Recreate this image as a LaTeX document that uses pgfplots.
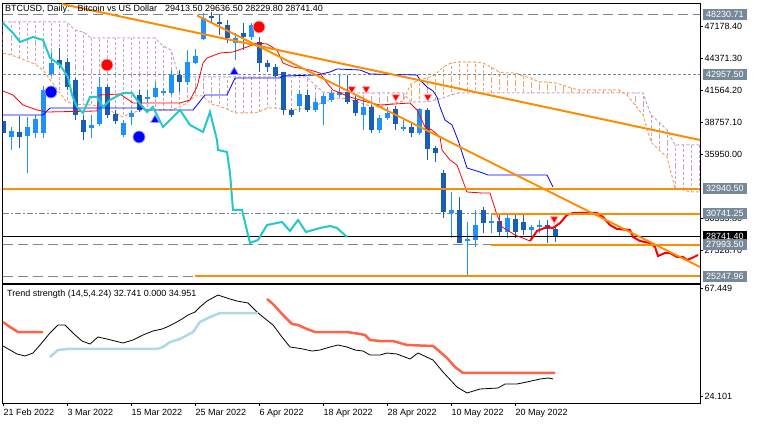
\documentclass[border=0pt]{standalone}
\usepackage{pgfplots}
\usepackage{pgfplotstable}
\pgfplotsset{compat=1.18}
\usepackage{fontspec}
\setmainfont{Liberation Sans}
\definecolor{bull}{HTML}{1E90FF}
\definecolor{bear}{HTML}{1A5DB5}
\definecolor{chik}{HTML}{22C8CC}
\definecolor{sandy}{HTML}{F4A460}
\definecolor{thist}{HTML}{C9A2C9}
\definecolor{dorange}{HTML}{FF8C00}
\definecolor{slate}{HTML}{778899}
\definecolor{tomato}{HTML}{FF6347}
\definecolor{lblue}{HTML}{ADD8E6}
\definecolor{pinkish}{HTML}{FFB0B0}
\newcommand\mt{\fontsize{9bp}{10bp}\selectfont}

\pgfplotstableread{
i o h l c
1 37481 38361 36337 38009
3 37569 39241 34313 38361
4 37833 39417 37393 39065
5 37833 41969 37393 41617
6 43025 44873 42849 43993
11 38273 39417 37393 38537
12 38625 42761 38449 41881
15 37657 38977 37481 38713
16 39241 39857 38537 39593
18 40825 41617 40473 41001
19 41001 42321 40913 41793
20 41353 41793 41177 41529
21 41353 43377 41177 42937
23 42321 45137 42057 44081
24 43993 45225 43905 44609
25 46105 48393 46017 47953
29 45753 46633 44257 46193
31 46281 47513 46017 47337
37 40209 41617 39681 41265
39 39857 40913 39681 40561
40 40385 41353 38537 41089
41 40737 41617 40561 41353
42 41177 42937 41001 41441
45 39417 40913 38097 40121
47 38097 39417 37833 39153
48 39153 40121 38977 39593
50 38185 38977 38009 38361
52 37833 40033 37657 39945
56 30793 32641 28593 31057
58 28329 30001 25249 28505
59 28417 31057 27801 29737
61 29913 30617 29033 30089
63 29121 30617 28593 30353
66 29297 29737 28417 29561
67 29561 30177 29033 29737
}\bulltab

\pgfplotstableread{
i o h l c
0 38889 39153 37217 37833
2 37921 39329 36513 37481
7 44257 45313 43553 43817
8 44081 44433 41617 41881
9 42497 42673 38977 39417
10 38977 39417 37217 37921
13 41881 42057 39153 39417
14 39505 39857 38625 38889
17 41177 41617 39681 39857
22 42937 43377 41441 42321
26 48129 48481 47601 47953
27 47601 48217 46457 47425
28 47337 47777 45753 46193
30 46633 47513 45137 46281
32 45841 46281 43201 43993
33 43993 44257 43201 43641
34 43641 43905 42761 42849
35 43201 43201 39417 39857
36 39857 40033 39241 39417
38 41177 41617 39681 39857
43 41441 42937 40385 40561
44 40737 41089 39329 39593
46 40121 40297 37833 38097
49 39945 40209 38097 38625
51 38361 38801 37481 37833
53 39857 40033 35457 36425
54 36513 36689 35281 36073
55 34313 34577 30353 30881
57 31057 32201 28153 28153
60 31057 31321 29033 29913
62 30089 30617 28681 29121
64 30265 30617 28593 29121
65 30001 30617 28857 29297
68 29737 30177 28153 29385
69 29413.5 29636.5 28229.8 28741.4
}\beartab

\pgfplotstableread{
i A B
0 44873 47601
1 44697 47601
2 44433 47601
3 44169 47601
4 43905 47601
5 43377 47601
6 42409 47601
7 41441 47601
8 40561 47601
9 40385 46897
10 40297 46721
11 40297 46193
12 40209 46193
13 39945 46193
14 39593 46193
15 39241 46193
16 39593 46193
17 39769 46193
18 39857 46193
19 39857 46193
20 39857 45489
21 39857 45137
22 40121 42761
23 40473 42761
24 41089 42761
25 41089 42761
26 40385 42761
27 40209 42761
28 39945 42761
29 39593 42761
30 39593 42761
31 39593 42761
32 39681 42761
33 40033 42761
34 40033 42761
35 39945 42761
36 39857 42761
37 39945 42761
38 40033 42761
39 40209 42057
40 40561 41441
41 40825 41353
42 40913 41353
43 40825 41353
44 40649 41353
45 40385 41353
46 40209 41353
47 40121 41353
48 40297 41353
49 40473 41353
50 40649 41353
51 42145 40561
52 42497 40561
53 42673 40561
54 42937 40737
55 43641 40913
56 43993 41177
57 44081 41353
58 44081 41353
59 44081 41353
60 43993 41353
61 43641 41353
62 43201 41353
63 43113 41353
64 43113 41353
65 42849 41353
66 42673 41353
67 42321 41353
68 42321 41353
69 42233 41353
70 42057 41353
71 41793 41353
72 41617 41353
73 41617 41353
74 41617 41353
75 41617 41353
76 41617 41353
77 41617 41353
78 41177 41353
79 40297 41353
80 39417 41353
81 37041 39417
82 36337 38801
83 35721 38097
84 32993 36777
85 32817 36777
86 32641 36777
87 32641 36777
}\cloud

\pgfplotstableread{
i c
0 47513
1.25 46633
2.125 45841
3.75 46281
5 46017
5.875 44433
7.125 43817
8.125 42761
8.625 41177
9.25 40121
10 39593
10.875 41001
11.75 41001
12.5 40121
13.375 40737
15 41353
16.125 41353
16.75 40737
18 39681
18.75 40121
20 38361
22.125 39857
23.375 38537
25 37921
25.875 39681
26.75 37217
26.875 36337
28 36161
28.375 34313
28.75 31057
29.875 31057
30.875 28153
31.875 28417
33 29737
34.875 30001
35.875 29209
36.875 30177
37.875 29121
39.625 29473
40.875 29649
41.75 29473
43 28681
}\chikou

\pgfplotsset{
  candle/.style 2 args={draw=none, mark=none, forget plot,
    error bars/y dir=both, error bars/y explicit, error bars/error mark=none,
    error bars/error bar style={draw=#1, line width=#2, solid}},
  hatch/.style={draw=none, mark=none, forget plot,
    error bars/y dir=both, error bars/y explicit, error bars/error mark=none,
    error bars/error bar style={draw=#1, line width=1bp, dash pattern=on 3bp off 2bp}},
}

\begin{document}
\begin{tikzpicture}
\useasboundingbox (0,0) rectangle (758bp,424bp);
\begin{axis}[
  at={(2.5bp,141bp)}, anchor=south west,
  scale only axis, width=697.5bp, height=280bp,
  xmin=-0.0625, xmax=87.125, ymin=24633, ymax=49273,
  axis line style={line width=0.8bp},
  xtick=\empty,
  ytick={47178.4,44371.3,41564.2,38757.1,35950,30335.8,27528.7},
  yticklabels={47178.40,44371.30,41564.20,38757.10,35950.00,30335.80,27528.70},
  ytick pos=right, yticklabel pos=right, tick align=outside,
  major tick length=3bp, tick style={black, line width=0.8bp},
  yticklabel style={font=\mt, anchor=west, inner sep=0pt, xshift=1.5bp},
  clip mode=individual,
]
% cloud hatching
\addplot[restrict x to domain=0:50, hatch=thist] table[x=i, y expr=(\thisrow{A}+\thisrow{B})/2, y error expr={abs(\thisrow{B}-\thisrow{A})/2}] {\cloud};
\addplot[restrict x to domain=51:77, hatch=sandy] table[x=i, y expr=(\thisrow{A}+\thisrow{B})/2, y error expr={abs(\thisrow{B}-\thisrow{A})/2}] {\cloud};
\addplot[restrict x to domain=78:87, hatch=thist] table[x=i, y expr=(\thisrow{A}+\thisrow{B})/2, y error expr={abs(\thisrow{B}-\thisrow{A})/2}] {\cloud};
\addplot[sandy, line width=1bp, dash pattern=on 3bp off 2bp] table[x=i, y=A] {\cloud};
\addplot[thist, line width=1bp, dash pattern=on 3bp off 2bp] table[x=i, y=B] {\cloud};
% grey level lines
\addplot[slate, line width=0.8bp, dash pattern=on 10bp off 5bp] coordinates {(-0.0625,48230.71) (87.125,48230.71)};
\addplot[slate, line width=0.8bp, dash pattern=on 3bp off 2bp] coordinates {(-0.0625,42957.5) (87.125,42957.5)};
\addplot[slate, line width=0.8bp, dash pattern=on 6bp off 2bp on 2bp off 2bp] coordinates {(-0.0625,30741.25) (87.125,30741.25)};
\addplot[slate, line width=0.8bp, dash pattern=on 10bp off 5bp] coordinates {(-0.0625,27993.5) (61,27993.5)};
\addplot[slate, line width=0.8bp, dash pattern=on 10bp off 5bp] coordinates {(-0.0625,25247.96) (24,25247.96)};
% candles
\addplot[candle={bull}{1bp}] table[x=i, y expr=(\thisrow{h}+\thisrow{l})/2, y error expr=(\thisrow{h}-\thisrow{l})/2] {\bulltab};
\addplot[candle={bull}{5bp}] table[x=i, y expr=(\thisrow{o}+\thisrow{c})/2, y error expr={max(abs(\thisrow{c}-\thisrow{o})/2,45)}] {\bulltab};
\addplot[candle={bear}{1bp}] table[x=i, y expr=(\thisrow{h}+\thisrow{l})/2, y error expr=(\thisrow{h}-\thisrow{l})/2] {\beartab};
\addplot[candle={bear}{5bp}] table[x=i, y expr=(\thisrow{o}+\thisrow{c})/2, y error expr={max(abs(\thisrow{c}-\thisrow{o})/2,45)}] {\beartab};
% bid line
\addplot[black, line width=0.8bp] coordinates {(-0.0625,28741.4) (87.125,28741.4)};
% Kijun
\addplot[blue, line width=0.8bp] coordinates {(0,39417) (5,39417) (5.875,40033) (17.125,40033) (18,39857) (23.75,39857) (25.25,41177) (28,41177) (29,42673) (34.625,42673) (35,42849) (39.25,42937) (40.875,43201) (41.75,43465) (44.625,43377) (45.875,43025) (51.75,42937) (52.125,42497) (53,41881) (53.75,41529) (54.25,41001) (54.625,40121) (55.25,38977) (56.125,38537) (56.875,37217) (58,34753) (59.625,34401) (60.625,34137) (68,34137) (68.75,33081)};
% Tenkan
\addplot[red, line width=0.8bp] coordinates {(0,41529) (1.25,41177) (2.5,40297) (4.25,39857) (5.5,39681) (11.75,39769) (12,41177) (14.625,41265) (16.25,40473) (22.125,40473) (23.375,40737) (24.25,41881) (25,43993) (25.5,44433) (27.125,44873) (28.75,44961) (30.5,45401) (31.75,45753) (33,45665) (34.25,45137) (35,43993) (36.25,43641) (38.375,43377) (39.625,43113) (40.5,42233) (41.25,41617) (43.375,41001) (45.5,40561) (47.125,40297) (50.875,40473) (51.75,39857) (52.75,38361) (53.625,38097) (54.625,37481) (54.875,36337) (55.875,35457) (56.75,35017) (58,32641) (59.875,32553) (60.875,32553) (61.75,30617) (62.375,29561) (64,28857) (65.875,28329)};
% forecast thick red
\addplot[red, line width=2bp] coordinates {(65.875,28329) (66.75,29209) (68,29561) (68.75,29473) (69.625,29913) (70.5,30617) (71.25,30793) (74.25,30793) (75,30441) (75.875,29737) (76.75,29385) (78.375,29297) (78.75,28681) (79.625,28329) (80.875,28153) (81.5,27801) (81.875,27009) (82.75,27273) (83.375,27273) (84.25,26921) (85,26921) (85.5,26657) (86.125,26833) (86.875,27097)};
% Chikou
\addplot[chik, line width=2bp] table[x=i, y=c] {\chikou};
% orange levels
\addplot[dorange, line width=2bp] coordinates {(-0.0625,32940.5) (87.125,32940.5)};
\addplot[dorange, line width=2bp] coordinates {(61,30741.25) (87.125,30741.25)};
\addplot[dorange, line width=2bp] coordinates {(61,27993.5) (87.125,27993.5)};
\addplot[dorange, line width=2bp] coordinates {(24,25247.96) (87.125,25247.96)};
% trend lines
\addplot[dorange, line width=2bp] coordinates {(7.375,49182) (87.125,37217)};
\addplot[dorange, line width=2bp] coordinates {(24.25,48173) (87.125,26041)};
% signals
\addplot[only marks, mark=*, mark size=6bp, mark options={fill=red, draw=pinkish, line width=0.8bp}] coordinates {(13,43817) (32,47161)};
\addplot[only marks, mark=*, mark size=6bp, mark options={fill=blue, draw=blue!40, line width=0.8bp}] coordinates {(6,41441) (17,37481)};
\addplot[only marks, mark=triangle*, mark size=5bp, mark options={fill=blue, draw=blue!40, line width=0.8bp}] coordinates {(28.9,43201) (19,38977)};
\addplot[only marks, mark=triangle*, mark size=4.5bp, mark options={rotate=180, fill=red, draw=pinkish, line width=0.8bp}] coordinates {(43.6,41705) (45.4,41705) (49.1,41001) (53.1,41001) (68.9,30265)};
% right labels
\node[anchor=west, fill=slate, text=white, font=\mt, inner xsep=3bp, inner ysep=0pt, minimum height=11bp, xshift=3bp] at (axis cs:87.125,48230.71) {48230.71};
\node[anchor=west, fill=slate, text=white, font=\mt, inner xsep=3bp, inner ysep=0pt, minimum height=11bp, xshift=3bp] at (axis cs:87.125,42957.5) {42957.50};
\node[anchor=west, fill=slate, text=white, font=\mt, inner xsep=3bp, inner ysep=0pt, minimum height=11bp, xshift=3bp] at (axis cs:87.125,32940.5) {32940.50};
\node[anchor=west, fill=slate, text=white, font=\mt, inner xsep=3bp, inner ysep=0pt, minimum height=11bp, xshift=3bp] at (axis cs:87.125,30741.25) {30741.25};
\node[anchor=west, fill=black, text=white, font=\mt, inner xsep=3bp, inner ysep=0pt, minimum height=11bp, xshift=3bp] at (axis cs:87.125,28741.4) {28741.40};
\node[anchor=west, fill=slate, text=white, font=\mt, inner xsep=3bp, inner ysep=0pt, minimum height=11bp, xshift=3bp] at (axis cs:87.125,27993.5) {27993.50};
\node[anchor=west, fill=slate, text=white, font=\mt, inner xsep=3bp, inner ysep=0pt, minimum height=11bp, xshift=3bp] at (axis cs:87.125,25247.96) {25247.96};
\end{axis}

\begin{axis}[
  at={(2.5bp,21bp)}, anchor=south west,
  scale only axis, width=697.5bp, height=119bp,
  xmin=-0.0625, xmax=87.125, ymin=23.73, ymax=68.20,
  axis line style={line width=0.8bp},
  xtick={0,8,16,24,32,40,48,56,64},
  xticklabels={21 Feb 2022,3 Mar 2022,15 Mar 2022,25 Mar 2022,6 Apr 2022,18 Apr 2022,28 Apr 2022,10 May 2022,20 May 2022},
  xtick pos=bottom, ytick pos=right, yticklabel pos=right,
  ytick={66.6,26.1}, yticklabels={67.449,24.101},
  tick align=outside, major tick length=3bp, tick style={black, line width=0.8bp},
  yticklabel style={font=\mt, anchor=west, inner sep=0pt, xshift=1.5bp},
  xticklabel style={font=\mt, anchor=north west, inner sep=0pt, xshift=0.5bp, yshift=-3bp},
  clip mode=individual,
]
\addplot[black, line width=0.8bp] coordinates {(0,45.03) (0.875,43.53) (1.75,42.04) (2.75,41.29) (3.75,42.41) (4.625,45.40) (5.875,49.88) (6.875,52.88) (7.75,52.88) (8.75,49.88) (9.875,46.89) (10.875,45.77) (11.875,48.39) (13,47.64) (14,46.89) (15,46.15) (16.25,47.27) (17.5,49.14) (18.75,50.63) (19.875,51.38) (20.5,52.13) (21.5,53.62) (22.375,55.12) (23.125,56.61) (24,57.73) (24.625,59.60) (25.5,61.84) (26.875,64.08) (28.375,62.59) (29.25,61.84) (30.625,61.10) (31.75,57.73) (32.5,55.86) (33.75,52.88) (34.875,48.39) (35.875,44.65) (36.75,44.28) (37.5,43.91) (38.625,43.16) (39.625,43.53) (40.875,44.65) (41.875,45.40) (43,44.65) (44,43.53) (45,43.16) (45.875,41.66) (47.125,41.66) (48,42.41) (49.25,42.04) (50.875,40.17) (51.875,42.41) (53.75,39.79) (55,35.31) (56.75,29.71) (58,27.47) (59.625,28.96) (61.875,29.33) (62.75,30.83) (64.25,30.83) (65.5,31.58) (67.125,32.70) (68.125,33.07) (68.75,32.74)};
\addplot[tomato, line width=2.5bp] coordinates {(0,54.00) (0.875,52.13) (1.875,50.26) (5,50.26)};
\addplot[tomato, line width=2.5bp] coordinates {(33,62.59) (33.75,60.72) (35,56.61) (36.125,53.25) (36.875,52.88) (38,51.38) (39,50.26) (43,50.26) (44.625,49.51) (45.25,49.14) (45.875,47.27) (47.125,46.89) (48.75,46.89) (50.5,45.40) (53.75,45.03) (54.375,43.53) (55.5,40.54) (56.5,37.18) (57.5,34.95) (69,34.95)};
\addplot[lblue, line width=2.5bp] coordinates {(5.875,40.92) (6.875,43.53) (8,43.91) (19.25,43.91) (20,44.65) (20.875,46.52) (22.125,47.64) (23.75,50.26) (24.625,54.00) (25.875,55.86) (27.125,57.36) (31.875,57.36)};
\end{axis}
\node[anchor=west, font=\mt, inner sep=0pt] at (5bp,414.5bp) {BTCUSD, Daily:\hspace{8bp}Bitcoin vs US Dollar\hspace{8bp}29413.50 29636.50 28229.80 28741.40};
\node[anchor=west, font=\mt, inner sep=0pt] at (7bp,130bp) {Trend strength (14,5,4.24) 32.741 0.000 34.951};
\end{tikzpicture}
\end{document}
